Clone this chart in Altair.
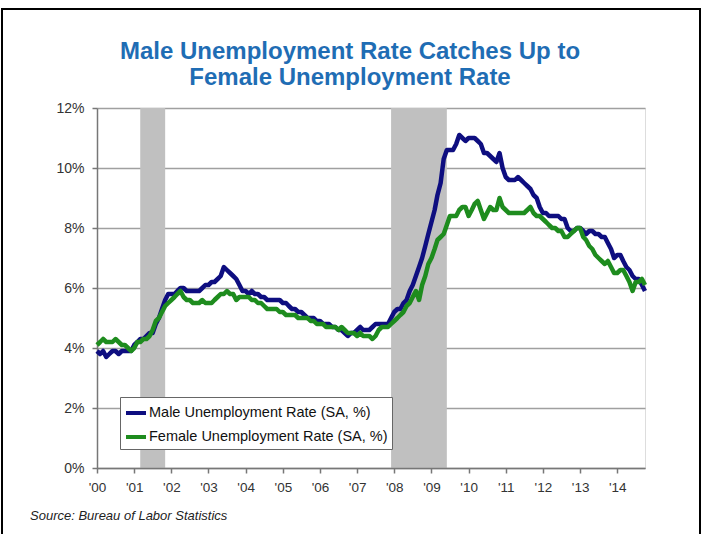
import altair as alt
import pandas as pd

# Monthly rates (SA, %) Jan 2000 - Oct 2014
male = [
    3.9,3.8,3.9,3.7,3.8,3.9,3.9,3.8,3.9,3.9,3.9,3.9,   # 2000
    4.1,4.2,4.3,4.3,4.4,4.5,4.5,4.8,5.0,5.3,5.6,5.8,   # 2001
    5.8,5.8,5.9,6.0,6.0,5.9,5.9,5.9,5.9,5.9,6.0,6.1,   # 2002
    6.1,6.2,6.2,6.3,6.4,6.7,6.6,6.5,6.4,6.3,6.1,5.9,   # 2003
    5.9,5.8,5.9,5.8,5.8,5.7,5.7,5.6,5.6,5.6,5.6,5.6,   # 2004
    5.5,5.5,5.4,5.3,5.3,5.2,5.2,5.1,5.0,5.0,5.0,4.9,   # 2005
    4.9,4.8,4.8,4.8,4.7,4.7,4.6,4.6,4.5,4.4,4.5,4.5,   # 2006
    4.6,4.7,4.6,4.6,4.6,4.7,4.8,4.8,4.8,4.8,4.8,5.0,   # 2007
    5.2,5.3,5.3,5.5,5.6,5.9,6.1,6.4,6.7,7.0,7.4,7.8,   # 2008
    8.2,8.6,9.1,9.5,10.3,10.6,10.6,10.6,10.8,11.1,11.0,10.9,  # 2009
    11.0,11.0,11.0,10.9,10.8,10.5,10.5,10.4,10.3,10.2,10.5,10.0,  # 2010
    9.7,9.6,9.6,9.6,9.7,9.6,9.5,9.4,9.3,9.1,9.0,8.7,   # 2011
    8.5,8.5,8.4,8.4,8.4,8.4,8.3,8.3,8.0,7.9,7.9,8.0,   # 2012
    8.0,7.9,7.8,7.9,7.9,7.8,7.8,7.7,7.7,7.5,7.3,7.0,   # 2013
    7.1,7.1,6.9,6.7,6.6,6.4,6.3,6.3,6.1,5.9,           # 2014
]
female = [
    4.1,4.2,4.3,4.2,4.2,4.2,4.3,4.2,4.1,4.1,4.0,3.9,   # 2000
    4.0,4.2,4.2,4.3,4.3,4.4,4.6,4.9,5.0,5.2,5.4,5.5,   # 2001
    5.6,5.7,5.8,5.9,5.7,5.6,5.6,5.5,5.5,5.5,5.6,5.5,   # 2002
    5.5,5.5,5.6,5.7,5.8,5.8,5.9,5.8,5.8,5.6,5.7,5.7,   # 2003
    5.7,5.7,5.6,5.6,5.5,5.5,5.4,5.3,5.3,5.3,5.3,5.2,   # 2004
    5.2,5.1,5.1,5.1,5.1,5.0,5.0,5.0,5.0,4.9,4.9,4.8,   # 2005
    4.8,4.8,4.7,4.7,4.7,4.7,4.6,4.7,4.6,4.5,4.5,4.5,   # 2006
    4.4,4.5,4.4,4.4,4.4,4.3,4.4,4.6,4.7,4.7,4.7,4.8,   # 2007
    4.9,5.0,5.1,5.2,5.4,5.5,5.7,5.9,5.6,6.1,6.4,6.8,   # 2008
    7.0,7.3,7.6,7.7,7.8,8.1,8.4,8.4,8.4,8.6,8.7,8.7,   # 2009
    8.4,8.6,8.8,8.9,8.6,8.3,8.5,8.7,8.6,8.6,9.0,8.7,   # 2010
    8.6,8.5,8.5,8.5,8.5,8.5,8.5,8.6,8.7,8.5,8.4,8.4,   # 2011
    8.3,8.2,8.1,8.0,8.0,7.9,7.9,7.7,7.7,7.8,7.9,8.0,   # 2012
    8.0,7.7,7.6,7.4,7.3,7.1,7.0,6.9,6.8,6.9,6.7,6.5,   # 2013
    6.5,6.6,6.6,6.4,6.2,5.9,6.2,6.2,6.3,6.1,           # 2014
]
series_names = ["Male Unemployment Rate (SA, %)", "Female Unemployment Rate (SA, %)"]
series_colors = ["#0E0E80", "#1E8C1E"]

rec_start = ["2001-03-01", "2007-12-01"]
rec_end = ["2001-11-01", "2009-06-01"]

year_ticks = [f"{y}-01-01" for y in range(2000, 2015)]
y_ticks = [0, 2, 4, 6, 8, 10, 12]

title_lines = ["Male Unemployment Rate Catches Up to", "Female Unemployment Rate"]
source_text = ["Source: Bureau of Labor Statistics"]

FONT = "Liberation Sans"

dates = pd.date_range("2000-01-01", periods=len(male), freq="MS")
df = pd.concat([
    pd.DataFrame({"date": dates, "rate": male, "series": series_names[0], "ord": 0}),
    pd.DataFrame({"date": dates, "rate": female, "series": series_names[1], "ord": 1}),
])
rec = pd.DataFrame({"start": pd.to_datetime(rec_start), "end": pd.to_datetime(rec_end)})

x_scale = alt.Scale(domain=[pd.Timestamp("2000-01-01").isoformat(), pd.Timestamp("2014-10-01").isoformat()])
y_scale = alt.Scale(domain=[0, 12], nice=False)

x_axis = alt.Axis(values=year_ticks, format="'%y", title=None, grid=False,
                  labelFont=FONT, labelFontSize=13.5, labelColor="#333333",
                  domainColor="#777777", domainWidth=1.5, tickColor="#777777",
                  tickSize=5, tickWidth=1.5, labelPadding=7, labelFlush=False,
                  labelOverlap=False, zindex=1)

bars = alt.Chart(rec).mark_rect(color="#C0C0C0").encode(
    x=alt.X("start:T", scale=x_scale, axis=x_axis),
    x2="end:T",
    y=alt.value(0),
    y2=alt.value(360),
)

lines = alt.Chart(df).mark_line(strokeWidth=4.5, strokeJoin="round").encode(
    x=alt.X("date:T", scale=x_scale, axis=x_axis),
    y=alt.Y("rate:Q", scale=y_scale,
            axis=alt.Axis(values=y_ticks, labelExpr="datum.value + '%'", title=None,
                          grid=True, gridColor="#A0A0A0", gridWidth=1.5,
                          labelFont=FONT, labelFontSize=14, labelColor="#333333",
                          domainColor="#777777", domainWidth=1.5, tickColor="#777777",
                          tickSize=5, tickWidth=1.5, labelPadding=8)),
    color=alt.Color("series:N",
                    scale=alt.Scale(domain=series_names, range=series_colors),
                    legend=alt.Legend(orient="none", legendX=23, legendY=289, title=None,
                                      symbolType="stroke", symbolStrokeWidth=4, symbolSize=400,
                                      labelFont=FONT, labelFontSize=14.5, labelColor="#111111",
                                      labelOffset=1, padding=4, rowPadding=4,
                                      strokeColor="#666666", fillColor="white",
                                      labelLimit=400)),
    order=alt.Order("ord:Q"),
    detail="series:N",
)

title1 = alt.Chart(pd.DataFrame({"t": [title_lines[0]]})).mark_text(
    font=FONT, fontSize=24, fontWeight="bold", color="#1F6DB4", align="center", baseline="middle"
).encode(text="t:N", x=alt.value(253), y=alt.value(-56))

title2 = alt.Chart(pd.DataFrame({"t": [title_lines[1]]})).mark_text(
    font=FONT, fontSize=24, fontWeight="bold", color="#1F6DB4", align="center", baseline="middle"
).encode(text="t:N", x=alt.value(253), y=alt.value(-30))

source = alt.Chart(pd.DataFrame({"t": source_text})).mark_text(
    font=FONT, fontSize=13, fontStyle="italic", align="left", baseline="middle", color="#222222"
).encode(text="t:N", x=alt.value(-67), y=alt.value(408))

frame = alt.Chart(pd.DataFrame({"t": [0]})).mark_rect(
    fill=None, stroke="black", strokeWidth=2, clip=False
).encode(x=alt.value(-95), x2=alt.value(603), y=alt.value(-99), y2=alt.value(460))

chart = alt.layer(bars, lines, title1, title2, source, frame).properties(
    width=548, height=360,
    autosize=alt.AutoSizeParams(type="none"),
    padding={"left": 97, "top": 108, "right": 57, "bottom": 66},
).configure_view(stroke="#A0A0A0", strokeWidth=1.5).configure(background="white")

chart.save("out.html", embed_options={"renderer": "svg", "actions": False})
